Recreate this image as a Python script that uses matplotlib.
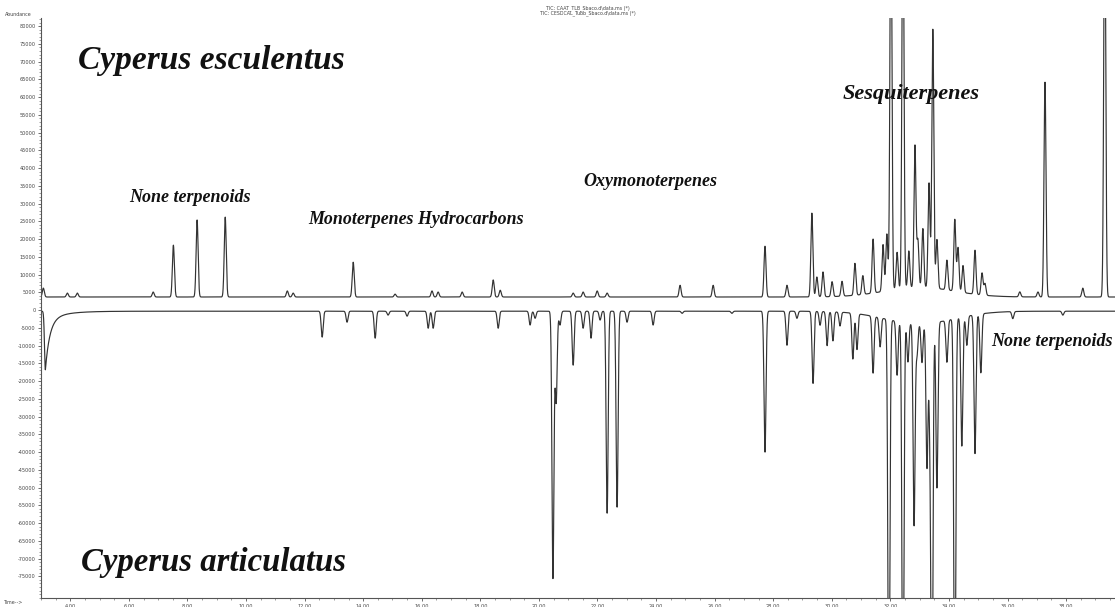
import numpy as np
import matplotlib
matplotlib.use("Agg")
import matplotlib.pyplot as plt
from matplotlib.ticker import MultipleLocator, FixedLocator

# ---------------- data ----------------
# Cyperus esculentus (upper trace): retention time (min) and apex abundance
esc_times = [3.08, 3.90, 4.24, 6.83, 7.52, 8.33, 9.29, 11.41, 11.61, 13.66,
             15.09, 16.35, 16.56, 17.38, 18.44, 18.68, 21.17, 21.51, 21.99, 22.33,
             24.82, 25.95, 27.72, 28.47, 29.32, 29.49, 29.70, 30.01, 30.35, 30.79,
             31.06, 31.41, 31.75, 31.88, 32.02, 32.23, 32.43, 32.63, 32.84, 32.94,
             33.11, 33.32, 33.45, 33.59, 33.93, 34.20, 34.31, 34.48, 34.89, 35.13,
             35.23, 36.42, 37.04, 37.28, 38.57, 39.32]
esc_apex = [6200, 4800, 4800, 5100, 18300, 25400, 26200, 5400, 4800, 13500,
            4500, 5400, 5100, 5100, 8500, 5600, 4800, 5100, 5400, 4800,
            7000, 7000, 18000, 7000, 27300, 9300, 10700, 7900, 7900, 12700,
            9000, 18900, 16900, 19700, 120000, 14100, 120000, 14100, 43700, 16900,
            20300, 33200, 76600, 17500, 12100, 23900, 16100, 11300, 16100, 9900,
            7000, 5100, 5100, 64200, 6200, 120000]
esc_baseline = 3700
esc_hump = [33.0, 1.2, 2700]          # centre, width, height of unresolved hump

# Cyperus articulatus (lower, mirrored trace)
art_times = [12.60, 13.45, 14.41, 14.85, 15.50, 16.22, 16.39, 18.61, 19.70, 19.87,
             20.48, 20.59, 20.72, 21.17, 21.51, 21.78, 22.09, 22.33, 22.67, 23.01,
             23.90, 24.89, 26.59, 27.72, 28.47, 28.81, 29.36, 29.60, 29.84, 30.04,
             30.28, 30.72, 30.86, 31.41, 31.65, 31.95, 32.23, 32.43, 32.60, 32.81,
             32.91, 33.08, 33.25, 33.35, 33.42, 33.59, 33.93, 34.20, 34.44, 34.61,
             34.89, 35.09, 36.18, 37.89]
art_apex = [-7600, -3400, -7900, -1400, -1700, -5100, -5100, -5100, -4200, -2300,
            -75500, -25900, -4200, -15500, -5100, -7900, -2800, -57200, -55500, -3400,
            -4200, -900, -900, -40000, -9900, -2300, -20600, -4200, -9900, -8500,
            -4200, -13200, -10400, -16300, -8500, -120000, -15500, -120000, -11300, -57200,
            -9000, -11300, -40900, -25400, -120000, -47000, -12100, -120000, -36600, -8500,
            -39400, -16900, -2300, -1400]
art_baseline = -300
art_hump = [33.0, 1.2, -3500]
art_solvent = [3.15, -14000, 0.15, -2500, 0.6]   # time, fast amp, fast tau, slow amp, slow tau

y_ticks = list(range(-75000, 80001, 5000))
y_tick_labels = [str(v) for v in y_ticks]
x_ticks = [4, 6, 8, 10, 12, 14, 16, 18, 20, 22, 24, 26, 28, 30, 32, 34, 36, 38]
x_tick_labels = ["%.2f" % v for v in x_ticks]

# ---------------- build traces ----------------
t = np.arange(3.0, 39.7, 0.002)
sigma = 0.034


def trace(times, apex, base, hump):
    y = np.full_like(t, float(base))
    for ti, ai in zip(times, apex):
        y += (ai - base) * np.exp(-0.5 * ((t - ti) / sigma) ** 2)
    c, w, h = hump
    y += h * np.exp(-0.5 * ((t - c) / w) ** 2)
    return y


y_esc = trace(esc_times, esc_apex, esc_baseline, esc_hump)
y_art = trace(art_times, art_apex, art_baseline, art_hump)
t0, a1, tau1, a2, tau2 = art_solvent
dt = t - t0
dtc = np.clip(dt, 0, None)
front = np.where(dt >= 0,
                 a1 * np.exp(-dtc / tau1) + a2 * np.exp(-dtc / tau2),
                 (a1 + a2) * np.exp(-0.5 * (dt / 0.03) ** 2))
y_art = y_art + front

# ---------------- figure ----------------
W, H = 1115, 607
fig = plt.figure(figsize=(W / 100, H / 100), dpi=100)
ax = fig.add_axes([41 / W, 9 / H, (W - 41) / W, (598 - 18) / H])
ax.plot(t, y_esc, color="#333333", lw=0.85)
ax.plot(t, y_art, color="#333333", lw=0.85)
ax.set_xlim(3.0, 39.67)
ax.set_ylim(-81100, 82300)

for s in ("top", "right"):
    ax.spines[s].set_visible(False)
for s in ("left", "bottom"):
    ax.spines[s].set_color("#555555")
    ax.spines[s].set_linewidth(0.8)

ax.yaxis.set_major_locator(FixedLocator(y_ticks))
ax.set_yticklabels(y_tick_labels)
ax.yaxis.set_minor_locator(MultipleLocator(1000))
ax.xaxis.set_major_locator(FixedLocator(x_ticks))
ax.set_xticklabels(x_tick_labels)
ax.xaxis.set_minor_locator(MultipleLocator(0.5))
ax.tick_params(axis="both", which="major", length=2.5, width=0.6, color="#555555",
               labelsize=3.6, labelcolor="#444444", pad=1.5)
ax.tick_params(axis="both", which="minor", length=1.3, width=0.5, color="#777777")

tick_font = dict(fontsize=3.4, color="#444444")
fig.text(5 / W, 1 - 15 / H, "Abundance", ha="left", va="center", **tick_font)
fig.text(4 / W, 1 - 603 / H, "Time-->", ha="left", va="center", **tick_font)
fig.text(588 / W, 1 - 8 / H, "TIC: CAAT_TLB_Sbaco.d\\data.ms (*)", ha="center", va="center", **tick_font)
fig.text(588 / W, 1 - 13 / H, "TIC: CESDCAL_Tubb_Sbaco.d\\data.ms (*)", ha="center", va="center", **tick_font)

serif = dict(family="Liberation Serif", weight="bold", style="italic", color="#111111")
fig.text(78 / W, 1 - 60 / H, "Cyperus esculentus", ha="left", va="center", fontsize=24, **serif)
fig.text(81 / W, 1 - 563 / H, "Cyperus articulatus", ha="left", va="center", fontsize=23.6, **serif)
fig.text(190 / W, 1 - 197 / H, "None terpenoids", ha="center", va="center", fontsize=13, **serif)
fig.text(416 / W, 1 - 220 / H, "Monoterpenes Hydrocarbons", ha="center", va="center", fontsize=12.9, **serif)
fig.text(650 / W, 1 - 181 / H, "Oxymonoterpenes", ha="center", va="center", fontsize=13, **serif)
fig.text(911 / W, 1 - 94 / H, "Sesquiterpenes", ha="center", va="center", fontsize=16, **serif)
fig.text(1113 / W, 1 - 342 / H, "None terpenoids", ha="right", va="center", fontsize=13, **serif)

fig.savefig("out.png", dpi=100)
